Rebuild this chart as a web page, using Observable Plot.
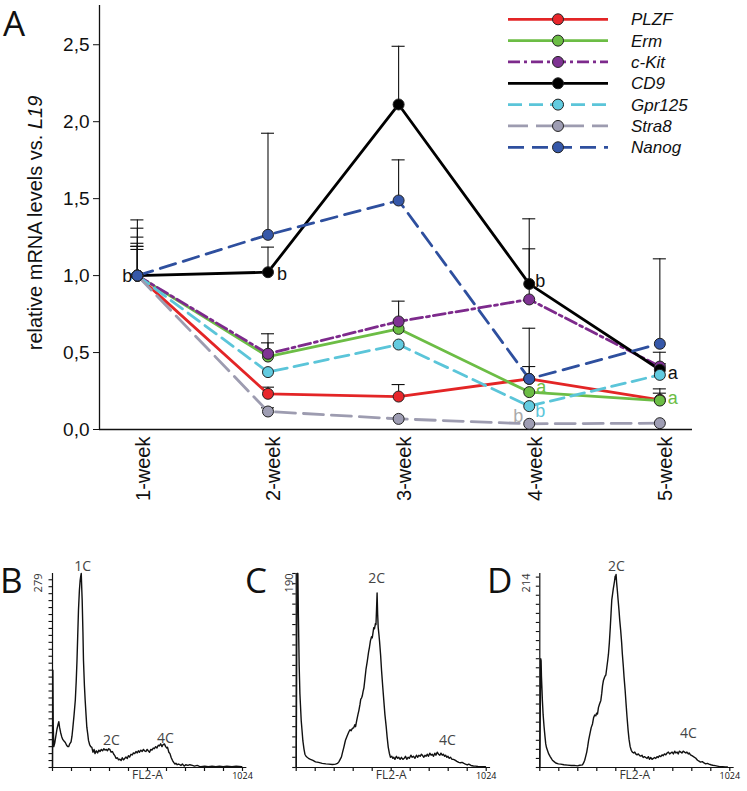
<!DOCTYPE html>
<html>
<head>
<meta charset="utf-8">
<script src="https://cdn.jsdelivr.net/npm/d3@7"></script>
<script src="https://cdn.jsdelivr.net/npm/@observablehq/plot@0.6"></script>
<style>
  body { margin: 0; background: #fff; }
  #fig { position: relative; width: 747px; height: 791px; overflow: hidden; background: #fff; }
  #fig > div { position: absolute; }
  #fig svg { display: block; }
</style>
</head>
<body>
<div id="fig"></div>
<script>
// ---------- Panel A data ----------
const weeks = ["1-week", "2-week", "3-week", "4-week", "5-week"];
const genes = ["PLZF", "Erm", "c-Kit", "CD9", "Gpr125", "Stra8", "Nanog"];
const yTicks = [0, 0.5, 1.0, 1.5, 2.0, 2.5];

const PLZF   = [1.00, 0.232, 0.214, 0.329, 0.193];
const Erm    = [1.00, 0.474, 0.654, 0.243, 0.188];
const cKit   = [1.00, 0.492, 0.702, 0.845, 0.409];
const CD9    = [1.00, 1.022, 2.112, 0.946, 0.388];
const Gpr125 = [1.00, 0.373, 0.552, 0.152, 0.355];
const Stra8  = [1.00, 0.117, 0.069, 0.037, 0.041];
const Nanog  = [1.00, 1.265, 1.488, 0.329, 0.557];

// upper end of the error bars (null = none visible)
const PLZF_err   = [1.17, 0.275, 0.292, 0.409, 0.236];
const Erm_err    = [1.21, 0.563, null, null, 0.264];
const cKit_err   = [1.25, 0.622, 0.834, 1.174, 0.427];
const CD9_err    = [1.362, 1.185, 2.49, 1.369, 0.502];
const Gpr125_err = [1.19, null, null, null, null];
const Stra8_err  = [1.19, 0.141, null, null, null];
const Nanog_err  = [1.308, 1.925, 1.752, 0.658, 1.109];

// significance letters
const sigLetters = [
  {gene: "CD9", week: 0, letter: "b"},
  {gene: "CD9", week: 1, letter: "b"},
  {gene: "CD9", week: 3, letter: "b"},
  {gene: "CD9", week: 4, letter: "a"},
  {gene: "Erm", week: 3, letter: "a"},
  {gene: "Erm", week: 4, letter: "a"},
  {gene: "Stra8", week: 3, letter: "b"},
  {gene: "Gpr125", week: 3, letter: "b"}
];

// ---------- Panels B-D data (channel, count) ----------
const histB = [[0,0],[2,140],[4,60],[7,30],[12,35],[18,45],[24,55],[30,62],[34,66],[38,58],[44,50],[50,44],[56,40],[62,38],[69,36],[76,32],[82,30],[87,30],[93,34],[100,37],[105,45],[110,58],[116,75],[123,97],[128,125],[132,154],[136,190],[140,226],[145,255],[149,269],[152,275],[155,279],[158,255],[160,240],[164,195],[167,154],[172,118],[176,97],[181,75],[185,58],[190,48],[194,39],[200,33],[206,30],[212,29],[218,22],[224,26],[229,20],[236,24],[243,21],[250,25],[256,23],[263,26],[270,24],[277,27],[283,25],[290,26],[296,24],[303,27],[309,26],[316,22],[323,23],[330,19],[336,17],[343,13],[350,14],[356,11],[363,12],[370,10],[376,14],[383,11],[389,13],[396,15],[403,13],[409,17],[416,15],[423,19],[430,18],[436,21],[443,20],[450,23],[456,21],[463,24],[469,22],[476,25],[483,23],[490,26],[496,24],[503,23],[510,26],[516,24],[523,22],[530,26],[536,25],[543,28],[549,27],[556,30],[563,28],[570,32],[576,31],[583,34],[590,30],[596,33],[603,34],[610,30],[616,28],[620,29],[627,22],[633,20],[640,14],[647,10],[654,7],[660,5],[665,6],[672,4],[680,5],[692,3],[700,5],[710,2],[718,4],[730,3],[740,4],[754,3],[765,2],[780,3],[789,2],[800,1],[820,2],[840,1],[860,2],[880,1],[900,2],[920,1],[940,2],[967,1],[990,2],[1020,1]];

const histC = [[0,0],[5,190],[9,190],[12,147],[16,100],[20,72],[27,46],[32,35],[36,26],[42,18],[47,13],[53,11],[59,10],[66,9],[77,8],[90,7],[104,5.5],[120,5],[140,4],[160,3.5],[176,3.3],[195,3],[212,3.3],[222,4],[230,5.5],[237,8],[244,10.4],[250,15],[257,20],[262,24],[266,27],[275,31],[284,35],[290,37],[296,36],[302,38],[310,39],[316,42],[320,40],[326,46],[333,52],[338,56],[344,62],[348,67],[352,68],[356,70],[360,74],[365,78],[370,86],[376,96],[383,104],[390,113],[395,118],[400,124],[406,128],[410,127],[414,132],[418,137],[422,136],[427,141],[430,140],[433,155],[436,171],[439,150],[442,137],[446,130],[449,124],[455,110],[460,95],[466,80],[472,66],[478,52],[485,40],[490,30],[496,20],[502,14],[508,10],[515,11],[521,9],[526,10],[532,8],[540,11],[547,9],[553,10],[560,8],[567,10],[575,8],[582,9],[589,11],[596,8],[603,10],[610,9],[618,12],[625,10],[632,11],[640,9],[648,12],[655,10],[661,12],[668,11],[675,13],[680,12],[688,10],[694,12],[700,11],[706,13],[713,11],[720,14],[727,12],[733,13],[740,11],[747,14],[753,12],[760,15],[767,13],[774,12],[780,14],[787,12],[793,13],[800,11],[805,12],[812,10],[818,11],[825,9],[832,10],[840,8],[848,8],[858,7],[866,6],[876,5],[885,4.6],[894,5],[904,4],[912,3.3],[922,2.5],[930,3.3],[942,2],[955,1.5],[966,1.3],[980,1],[1000,0.8],[1020,0.7]];

const histD = [[0,0],[5,120],[7,118],[9,100],[12,85],[14,74],[18,58],[23,45],[28,34],[32,26],[36,22],[41,19],[48,15],[56,12],[62,10],[68,8],[77,6.5],[86,5],[100,4],[113,3.7],[130,3],[149,2.6],[170,2.2],[185,2.4],[203,1.8],[215,2.5],[230,2.9],[236,5],[242,8],[247,12],[253,17],[258,23],[263,30],[270,37],[277,44],[284,48],[290,55],[296,58],[302,57],[306,60],[311,59],[316,66],[322,70],[329,74],[334,82],[338,90],[343,96],[348,99],[352,101],[356,102],[361,110],[366,118],[370,125],[375,138],[380,155],[384,170],[388,185],[392,191],[396,197],[400,202],[403,206],[406,211],[409,208],[411,213],[414,204],[418,195],[422,185],[427,173],[431,162],[436,151],[441,138],[445,125],[450,112],[454,100],[460,85],[465,70],[470,56],[476,41],[481,31],[487,23],[493,19],[499,17],[506,16],[512,17],[517,15],[524,14],[531,15],[538,13],[544,12.5],[551,13.5],[557,11],[564,12],[571,11],[578,10],[585,12],[591,9],[598,11],[605,9],[612,10],[618,11],[625,10],[632,12],[638,11],[645,13],[652,12],[659,14],[665,13],[672,15],[679,14],[686,16],[693,17],[700,15],[706,16],[713,17],[720,15],[727,18],[733,16],[740,17],[746,15],[752,18],[760,17],[766,16],[773,18],[780,17],[787,16],[793,17],[800,15],[805,16],[812,14],[820,13],[828,12],[835,11],[842,10],[850,8],[858,7],[866,6],[876,6.5],[885,5],[894,4],[903,4.5],[912,3.7],[922,3],[932,2.5],[945,2],[957,1.5],[970,1],[985,0.9],[1000,0.7],[1011,0.7]];

const histMax = {B: 279, C: 190, D: 214};
const histXMax = 1024;
const histXLabel = "FL2-A";
const peaksB = [{label: "1C", ch: 162, count: 289}, {label: "2C", ch: 318, count: 39}, {label: "4C", ch: 609, count: 42}];
const peaksC = [{label: "2C", ch: 433, count: 185}, {label: "4C", ch: 815, count: 26}];
const peaksD = [{label: "2C", ch: 413, count: 222}, {label: "4C", ch: 801, count: 38}];
const panelLetters = ["A", "B", "C", "D"];

// ---------- styles ----------
const lineColors = ["#e32526", "#6cbd45", "#7d2a8c", "#000000", "#5bc5d9", "#9d9cb0", "#2e4f9e"];
const fillColors = ["#e8262b", "#6cbd45", "#7f3393", "#000000", "#62cbe0", "#9e9db3", "#3658a9"];
const dashes = [null, null, "12,4,3,4", null, "14,7", "20,8", "16,8"];
const letterColors = {"CD9": "#111", "Erm": "#6cbd45", "Stra8": "#aaaaaa", "Gpr125": "#5bc5d9"};
const letterOffsets = [[-5, 1, "end"], [9, 2.5, "start"], [6, -3, "start"], [8, 3, "start"], [7, -4.4, "start"], [8, -2.8, "start"], [-6, -8, "end"], [6, 5.6, "start"]];

const series = [PLZF, Erm, cKit, CD9, Gpr125, Stra8, Nanog];
const errs = [PLZF_err, Erm_err, cKit_err, CD9_err, Gpr125_err, Stra8_err, Nanog_err];

const rows = [];
genes.forEach((g, gi) => series[gi].forEach((v, wi) => rows.push({gene: g, gi, w: wi + 1, v, err: errs[gi][wi]})));
const errRows = rows.filter(d => d.err != null);
const letterRows = sigLetters.map((l, i) => ({...l, i, w: l.week + 1, v: series[genes.indexOf(l.gene)][l.week]}));

const fig = document.getElementById("fig");
function place(node, left, top) {
  const wrap = document.createElement("div");
  wrap.style.left = left + "px";
  wrap.style.top = top + "px";
  wrap.appendChild(node);
  fig.appendChild(wrap);
}

const fmt = d => d.toFixed(1).replace(".", ",");
const capHalf = 0.05;

const plotA = Plot.plot({
  width: 747,
  height: 520,
  marginLeft: 99,
  marginRight: 55,
  marginTop: 5,
  marginBottom: 91,
  x: {type: "linear", domain: [0.71, 5.25]},
  y: {domain: [0, 2.755]},
  color: {type: "identity"},
  style: {fontFamily: "'Liberation Sans', Arial, sans-serif", color: "#111", background: "transparent", overflow: "visible"},
  marks: [
    Plot.axisY({ticks: yTicks, tickFormat: fmt, tickSize: 6, tickPadding: 4, fontSize: 19, label: null}),
    Plot.axisX({ticks: [1, 2, 3, 4, 5], tickFormat: i => weeks[i - 1], tickRotate: -90, tickSize: 0, tickPadding: 7, dx: 6, fontSize: 20, label: null}),
    Plot.ruleX([0.71], {stroke: "#111", strokeWidth: 1.3}),
    Plot.ruleY([0], {stroke: "#111", strokeWidth: 1.3}),
    // error bars
    Plot.ruleX(errRows, {x: "w", y1: "v", y2: "err", stroke: "#111", strokeWidth: 1.1}),
    Plot.ruleY(errRows, {y: "err", x1: d => d.w - capHalf, x2: d => d.w + capHalf, stroke: "#111", strokeWidth: 1.1}),
    // lines
    ...genes.map((g, gi) => Plot.line(rows.filter(d => d.gene === g), {
      x: "w", y: "v", stroke: lineColors[gi], strokeWidth: 2.8,
      strokeDasharray: dashes[gi] || undefined, strokeLinejoin: "round"
    })),
    // points
    Plot.dot(rows, {x: "w", y: "v", r: 5.5, fill: d => fillColors[d.gi], stroke: "#222", strokeWidth: 1}),
    // significance letters
    ...letterRows.map(l => Plot.text([l], {
      x: "w", y: "v", text: "letter", fill: letterColors[l.gene], fontSize: 18,
      dx: letterOffsets[l.i][0], dy: letterOffsets[l.i][1], textAnchor: letterOffsets[l.i][2]
    }))
  ]
});
place(plotA, 0, 0);

// y-axis label with italic L19, legend
const svgA = d3.select(plotA);
const yl = svgA.append("text")
  .attr("transform", "translate(42,223) rotate(-90)")
  .attr("text-anchor", "middle")
  .attr("font-size", 20)
  .attr("fill", "#111")
  .attr("font-family", "'Liberation Sans', Arial, sans-serif");
yl.append("tspan").text("relative mRNA levels vs. ");
yl.append("tspan").attr("font-style", "italic").text("L19");

const leg = svgA.append("g");
genes.forEach((g, gi) => {
  const y = 19.3 + gi * 21.33;
  leg.append("line").attr("x1", 508).attr("x2", 608).attr("y1", y).attr("y2", y)
    .attr("stroke", lineColors[gi]).attr("stroke-width", 2.8)
    .attr("stroke-dasharray", dashes[gi]);
  leg.append("circle").attr("cx", 558).attr("cy", y).attr("r", 5.5)
    .attr("fill", fillColors[gi]).attr("stroke", "#222").attr("stroke-width", 1);
  leg.append("text").attr("x", 631).attr("y", y).attr("dy", "0.35em")
    .attr("text-anchor", "start")
    .attr("font-size", 17).attr("font-style", "italic").attr("fill", "#111")
    .attr("font-family", "'Liberation Sans', Arial, sans-serif").text(g);
});

// ---------- histograms ----------
const histXTicks = d3.range(11).map(i => i * histXMax / 10);
const innerW = 190, innerH = 194;
function histogram(data, ymax, peaks, ml, labelDx) {
  const yTickVals = d3.range(0, ymax + 1, 10);
  const xTickLen = histXMax * 3.5 / innerW;   // 3.5 px expressed in channels
  const yTickLen = ymax * 4 / innerH;         // 4 px expressed in counts
  return Plot.plot({
    width: 250,
    height: 236,
    marginLeft: ml,
    marginRight: 250 - ml - innerW,
    marginTop: 18,
    marginBottom: 24,
    x: {domain: [0, histXMax], axis: null},
    y: {domain: [0, ymax], axis: null},
    style: {fontFamily: "'Open Sans', sans-serif", color: "#111", background: "transparent", overflow: "visible"},
    marks: [
      Plot.ruleX(histXTicks, {x: d => d, y1: 0, y2: -yTickLen, stroke: "#111", strokeWidth: 1.2}),
      Plot.ruleY(yTickVals, {y: d => d, x1: 0, x2: -xTickLen, stroke: "#111", strokeWidth: 1.1}),
      Plot.ruleX([0], {y1: 0, y2: ymax, stroke: "#111", strokeWidth: 1.2}),
      Plot.ruleY([0], {x1: 0, x2: histXMax * 1.023, stroke: "#111", strokeWidth: 1.2}),
      Plot.line(data, {x: d => d[0], y: d => d[1], stroke: "#111", strokeWidth: 1.4}),
      Plot.text([histXMax], {x: d => d, y: 0, text: d => String(d), dy: 9, fontSize: 9, fill: "#111"}),
      Plot.text([ymax], {x: 0, y: d => d, text: d => String(d), rotate: -90, textAnchor: "end", lineAnchor: "middle", dx: labelDx, fontSize: 11, fill: "#333"}),
      Plot.text(peaks, {x: "ch", y: "count", text: "label", fontSize: 14, fill: "#444"}),
      Plot.text([histXLabel], {frameAnchor: "bottom", dy: 11, fontSize: 12, fill: "#333", text: d => d, letterSpacing: "1px"})
    ]
  });
}
place(histogram(histB, histMax.B, peaksB, 52, -14), 0, 555);
place(histogram(histC, histMax.C, peaksC, 50.7, -7), 245, 555);
place(histogram(histD, histMax.D, peaksD, 42.3, -13), 497, 555);

// panel letters overlay
const over = d3.select(fig).append("svg")
  .attr("width", 747).attr("height", 791)
  .style("position", "absolute").style("left", "0px").style("top", "0px")
  .style("pointer-events", "none");
const letterPos = [[3, 36], [0, 593], [245, 593], [487, 593]];
panelLetters.forEach((t, i) => {
  over.append("text").attr("x", letterPos[i][0]).attr("y", letterPos[i][1])
    .attr("font-size", 35).attr("fill", "#111")
    .attr("font-family", "'Open Sans', sans-serif").text(t);
});
</script>
</body>
</html>
